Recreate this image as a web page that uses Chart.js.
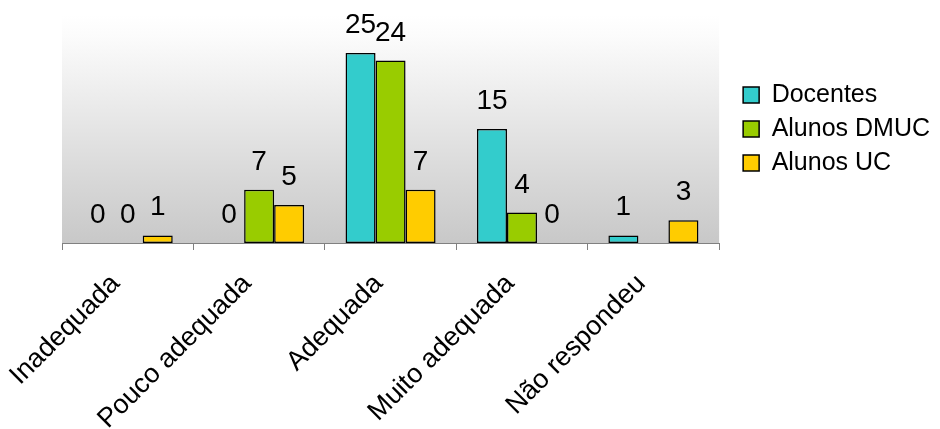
<!DOCTYPE html>
<html><head><meta charset="utf-8">
<script src="https://cdn.jsdelivr.net/npm/chart.js@4/dist/chart.umd.min.js"></script>
<style>html,body{margin:0;padding:0;background:#fff}#wrap{width:940px;height:429px}</style>
</head><body><div id="wrap"><canvas id="c" width="940" height="429"></canvas></div>
<script>
const categories = ["Inadequada", "Pouco adequada", "Adequada", "Muito adequada", "Não respondeu"];
const seriesNames = ["Docentes", "Alunos DMUC", "Alunos UC"];
const docentes = [0, 0, 25, 15, 1];
const alunosDMUC = [0, 7, 24, 4, null];
const alunosUC = [1, 5, 7, 0, 3];
const yMax = 30;

const FAMILY = "'Liberation Sans', Arial, sans-serif";
const colors = ["#33CCCC", "#99CC00", "#FFCC00"];

const bgPlugin = {
  id: 'bg',
  beforeDraw(chart) {
    const {ctx, chartArea: a} = chart;
    const g = ctx.createLinearGradient(0, a.top, 0, a.bottom);
    g.addColorStop(0, '#ffffff');
    g.addColorStop(0.1, '#fbfbfb');
    g.addColorStop(1, '#c8c8c8');
    ctx.save();
    ctx.fillStyle = g;
    ctx.fillRect(a.left, a.top, a.right - a.left, a.bottom - a.top);
    ctx.restore();
  }
};

const labelPlugin = {
  id: 'vlabels',
  afterDatasetsDraw(chart) {
    const ctx = chart.ctx;
    ctx.save();
    ctx.font = "28px " + FAMILY;
    ctx.fillStyle = '#000';
    ctx.textAlign = 'center';
    ctx.textBaseline = 'alphabetic';
    chart.data.datasets.forEach((ds, i) => {
      const meta = chart.getDatasetMeta(i);
      meta.data.forEach((el, j) => {
        const v = ds.data[j];
        if (v === null || v === undefined) return;
        ctx.fillText(String(v), el.x, el.y - 20);
      });
    });
    ctx.restore();
  }
};

const seriesData = [docentes, alunosDMUC, alunosUC];

new Chart(document.getElementById('c'), {
  type: 'bar',
  data: {
    labels: categories,
    datasets: seriesNames.map((n, i) => ({
      label: n,
      data: seriesData[i],
      backgroundColor: colors[i],
      borderColor: '#000000',
      borderWidth: 1.5,
      borderSkipped: false,
      categoryPercentage: 0.685,
      barPercentage: 1.0
    }))
  },
  options: {
    responsive: false,
    animation: false,
    devicePixelRatio: 1,
    layout: { padding: { left: 62, top: 15, right: 0, bottom: 0 } },
    scales: {
      x: {
        offset: true,
        grid: { display: true, offset: true, drawOnChartArea: false, drawTicks: true, tickLength: 7, color: '#808080', lineWidth: 1 },
        border: { display: true, color: '#808080', width: 1 },
        ticks: { maxRotation: 45, minRotation: 45, autoSkip: false, color: '#000', padding: 18, labelOffset: -12, font: { size: 27, family: FAMILY } },
        afterFit(s) { s.height = 186; }
      },
      y: { display: false, min: 0, max: yMax },
      yr: {
        position: 'right', display: true,
        grid: { display: false }, border: { display: false }, ticks: { display: false },
        afterFit(s) { s.width = 15; }
      }
    },
    plugins: {
      tooltip: { enabled: false },
      legend: {
        position: 'right', align: 'center', fullSize: false,
        labels: { boxWidth: 16, boxHeight: 16, padding: 9, color: '#000', font: { size: 25, family: FAMILY } }
      }
    }
  },
  plugins: [bgPlugin, labelPlugin]
});
</script>
</body></html>
